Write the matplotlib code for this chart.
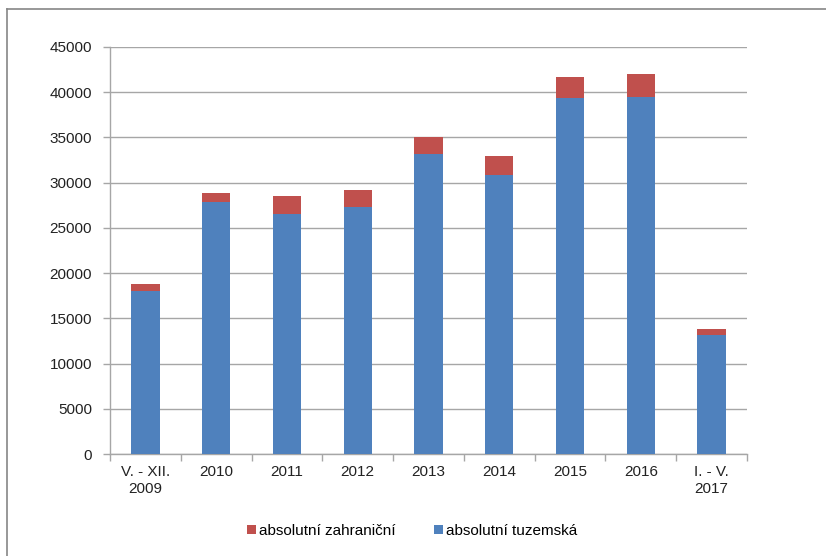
import numpy as np
import matplotlib
matplotlib.use("Agg")
import matplotlib.pyplot as plt
from matplotlib.lines import Line2D

plt.rcParams['font.family'] = ['Liberation Sans', 'DejaVu Sans']

categories = ["V. - XII.\n2009", "2010", "2011", "2012", "2013",
              "2014", "2015", "2016", "I. - V.\n2017"]
tuzemska = [18000, 27900, 26500, 27300, 33150, 30800, 39400, 39500, 13200]
zahranicni = [800, 950, 2000, 1900, 1900, 2100, 2300, 2550, 630]

blue = '#4f81bd'
red = '#c0504d'

W, H = 826, 556
fig = plt.figure(figsize=(W / 100, H / 100), dpi=100)
# plot area in pixels: x 110..747, y 47..454
ax = fig.add_axes([110 / W, 1 - 454 / H, (747 - 110) / W, (454 - 47) / H])

# outer chart frame (runs off the right and bottom edges)
fig.add_artist(Line2D([7 / W, 7 / W], [0, 1 - 9 / H], transform=fig.transFigure,
                      color='#868686', lw=1.2))
fig.add_artist(Line2D([7 / W, 1.0], [1 - 9 / H, 1 - 9 / H], transform=fig.transFigure,
                      color='#868686', lw=1.2))

x = np.arange(len(categories))
ax.bar(x, tuzemska, width=0.4, color=blue, zorder=3, label='absolutní tuzemská')
ax.bar(x, zahranicni, width=0.4, bottom=tuzemska, color=red, zorder=3,
       label='absolutní zahraniční')

ax.set_xlim(-0.5, len(categories) - 0.5)
ax.set_ylim(0, 45000)
ax.set_yticks(np.arange(0, 45001, 5000))
ax.yaxis.grid(True, color='#a6a6a6', lw=1.0, zorder=0)
ax.set_axisbelow(True)

for side in ['top', 'right']:
    ax.spines[side].set_visible(False)
for side in ['left', 'bottom']:
    ax.spines[side].set_color('#a6a6a6')
    ax.spines[side].set_linewidth(1.0)

fs = 11
ax.set_xticks(x)
ax.set_xticklabels(categories, fontsize=fs, color='#222222', linespacing=1.25)
ax.tick_params(axis='x', length=0, pad=8)
ax.set_xticks(np.arange(-0.5, len(categories), 1), minor=True)
ax.tick_params(axis='x', which='minor', length=5, color='#a6a6a6', width=1.0)
ax.tick_params(axis='y', length=5, color='#a6a6a6', width=1.0, labelsize=fs,
               labelcolor='#222222', pad=8)

handles, labels = ax.get_legend_handles_labels()
fig.legend(handles[::-1], labels[::-1], loc='center', bbox_to_anchor=(412 / W, 1 - 531 / H),
           ncol=2, frameon=False, fontsize=fs, handlelength=0.6, handleheight=0.6,
           handletextpad=0.2, columnspacing=2.5)

fig.savefig('out.png', dpi=100)
